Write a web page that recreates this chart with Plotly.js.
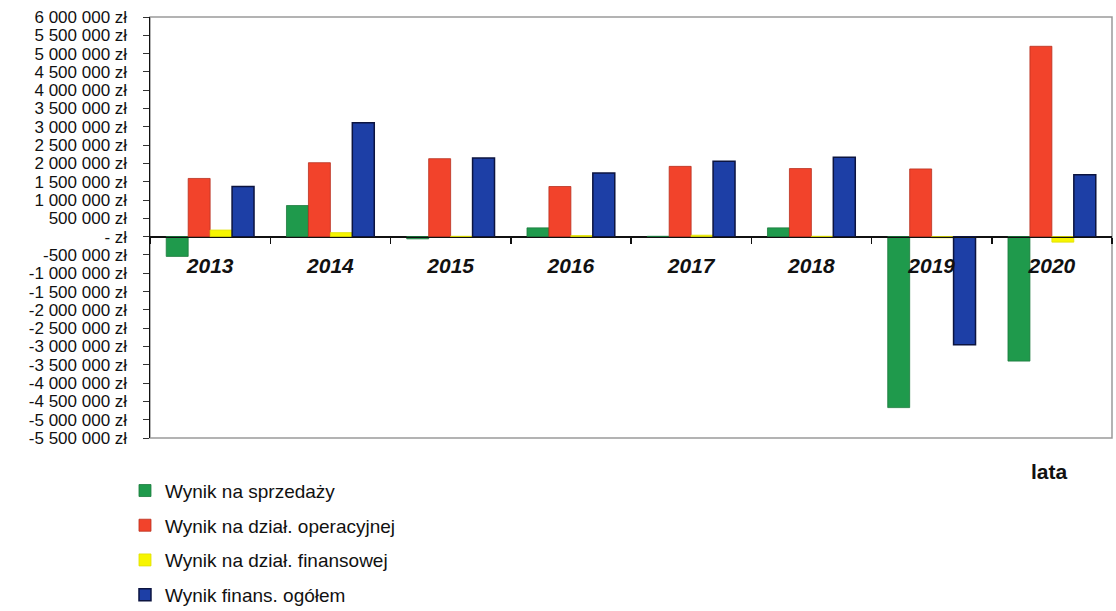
<!DOCTYPE html>
<html>
<head>
<meta charset="utf-8">
<script src="https://cdn.plot.ly/plotly-3.0.1.min.js"></script>
<style>html,body{margin:0;padding:0;background:#fff;}#chart{width:1116px;height:611px;}</style>
</head>
<body>
<div id="chart"></div>
<script>
const years = ['2013','2014','2015','2016','2017','2018','2019','2020'];
const wynikSprzedazy   = [-540000, 850000, -60000, 240000, 10000, 240000, -4670000, -3400000];
const wynikOperacyjny  = [1590000, 2020000, 2130000, 1370000, 1920000, 1860000, 1850000, 5200000];
const wynikFinansowy   = [180000, 110000, 10000, 30000, 40000, 10000, -30000, -150000];
const wynikOgolem      = [1370000, 3110000, 2150000, 1740000, 2060000, 2170000, -2950000, 1690000];
const seriesNames = ['Wynik na sprzedaży', 'Wynik na dział. operacyjnej', 'Wynik na dział. finansowej', 'Wynik finans. ogółem'];
const tickVals = [6000000,5500000,5000000,4500000,4000000,3500000,3000000,2500000,2000000,1500000,1000000,500000,0,-500000,-1000000,-1500000,-2000000,-2500000,-3000000,-3500000,-4000000,-4500000,-5000000,-5500000];
const tickText = ['6 000 000 zł','5 500 000 zł','5 000 000 zł','4 500 000 zł','4 000 000 zł','3 500 000 zł','3 000 000 zł','2 500 000 zł','2 000 000 zł','1 500 000 zł','1 000 000 zł','500 000 zł','- zł','-500 000 zł','-1 000 000 zł','-1 500 000 zł','-2 000 000 zł','-2 500 000 zł','-3 000 000 zł','-3 500 000 zł','-4 000 000 zł','-4 500 000 zł','-5 000 000 zł','-5 500 000 zł'];
const axisTitle = 'lata';

const yMin = -5500000, yMax = 6000000;
const FONT = 'Arial, "Liberation Sans", sans-serif';
const colors = ['#1f9a4c', '#f2432b', '#f7f500', '#1d3fa6'];
const lineColors = ['#1a7a3c', '#b8301e', '#e0e000', '#0c1440'];
const data = [wynikSprzedazy, wynikOperacyjny, wynikFinansowy, wynikOgolem].map((vals, i) => ({
  type: 'bar',
  x: years,
  y: vals,
  name: seriesNames[i],
  legendgroup: 'g' + i,
  marker: {color: colors[i], line: {color: lineColors[i], width: i === 3 ? 1.5 : 0.8}},
  hoverinfo: 'x+y+name'
}));

const layout = {
  width: 1116, height: 611,
  margin: {l: 150, r: 4, t: 17, b: 173, autoexpand: false},
  paper_bgcolor: '#ffffff', plot_bgcolor: '#ffffff',
  barmode: 'group', bargap: 0.27, bargroupgap: 0,
  font: {family: FONT, color: '#111'},
  showlegend: true,
  legend: {x: -0.026, y: -0.08, xanchor: 'left', yanchor: 'top', orientation: 'v',
           font: {family: FONT, size: 19, color: '#111'}, tracegroupgap: 7, bgcolor: 'rgba(0,0,0,0)'},
  xaxis: {
    type: 'category', anchor: 'free', position: (0 - yMin) / (yMax - yMin),
    showline: true, linecolor: '#111', linewidth: 1.5,
    ticks: 'outside', tickson: 'boundaries', ticklen: 6, tickcolor: '#111', tickwidth: 1.5,
    tickfont: {family: FONT, size: 21, color: '#111', weight: 'bold', style: 'italic'},
    ticklabelstandoff: 10,
    showgrid: false, zeroline: false, fixedrange: true, automargin: false
  },
  yaxis: {
    range: [yMin, yMax], tickmode: 'array', tickvals: tickVals, ticktext: tickText,
    showline: true, linecolor: '#111', linewidth: 1.5,
    ticks: 'outside', ticklen: 6, tickcolor: '#333', tickwidth: 1,
    tickfont: {family: FONT, size: 17, color: '#111'},
    ticklabelstandoff: 12,
    showgrid: false, zeroline: true, zerolinecolor: '#111', zerolinewidth: 1.5, fixedrange: true, automargin: false
  },
  shapes: [
    {type: 'rect', xref: 'paper', yref: 'paper', x0: 0, x1: 1, y0: 0, y1: 1, line: {color: '#9a9a9a', width: 1.5}, layer: 'below'}
  ],
  annotations: [
    {text: axisTitle, xref: 'paper', yref: 'paper', x: 0.9355, y: -0.08, showarrow: false,
     font: {family: FONT, size: 21, color: '#111', weight: 'bold'}, xanchor: 'center', yanchor: 'middle'}
  ]
};

Plotly.newPlot('chart', data, layout, {displayModeBar: false, staticPlot: true});
</script>
</body>
</html>
